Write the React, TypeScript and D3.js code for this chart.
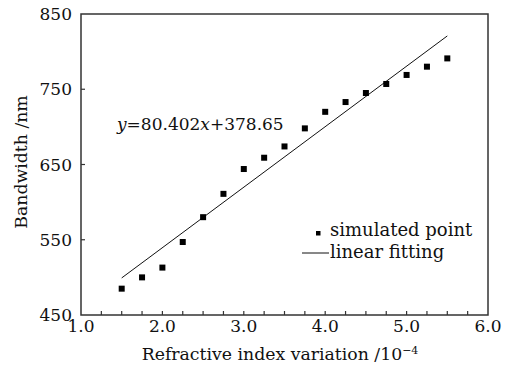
import React from "react";
import * as d3 from "d3";

// Refractive index variation (×10^-4) and simulated bandwidth (nm)
const xValues = [1.5, 1.75, 2.0, 2.25, 2.5, 2.75, 3.0, 3.25, 3.5, 3.75, 4.0, 4.25, 4.5, 4.75, 5.0, 5.25, 5.5];
const bandwidth = [485, 500, 513, 547, 580, 611, 644, 659, 674, 698, 720, 733, 745, 757, 769, 780, 791];

// Linear fit y = slope * x + intercept
const slope = 80.402;
const intercept = 378.65;
const fitRange = [1.5, 5.5];

const xTicks = [1.0, 2.0, 3.0, 4.0, 5.0, 6.0];
const xMinorTicks = d3.range(1.25, 6.0, 0.25);
const yTicks = [450, 550, 650, 750, 850];

const W = 521;
const H = 369;
const left = 81;
const right = 488;
const top = 14;
const bottom = 315;
const FONT = "'DejaVu Serif', serif";
const AXIS = "#333";
const TEXT = "#111";

export default function App() {
  const x = d3.scaleLinear().domain([1, 6]).range([left, right]);
  const y = d3.scaleLinear().domain([450, 850]).range([bottom, top]);
  const fitLine = d3
    .line<number>()
    .x((d) => x(d))
    .y((d) => y(slope * d + intercept));
  const sq = 6;

  return (
    <svg
      width={W}
      height={H}
      style={{ position: "absolute", left: 0, top: 0, background: "#fff" }}
      fontFamily={FONT}
    >
      <rect x={0} y={0} width={W} height={H} fill="#fff" />
      {/* frame */}
      <rect
        x={left}
        y={top}
        width={right - left}
        height={bottom - top}
        fill="none"
        stroke={AXIS}
        strokeWidth={1.5}
      />
      {/* bottom ticks */}
      {xMinorTicks.map((t) => (
        <line key={"xm" + t} x1={x(t)} x2={x(t)} y1={bottom} y2={bottom - 4} stroke={AXIS} strokeWidth={1.2} />
      ))}
      {xTicks.map((t) => (
        <text key={"xl" + t} x={x(t)} y={332} textAnchor="middle" fontSize={17} fill={TEXT}>
          {t.toFixed(1)}
        </text>
      ))}
      {/* left ticks */}
      {yTicks.slice(1, -1).map((t) => (
        <line key={"yt" + t} x1={left} x2={left + 4} y1={y(t)} y2={y(t)} stroke={AXIS} strokeWidth={1.2} />
      ))}
      {yTicks.map((t) => (
        <text
          key={"yl" + t}
          x={72}
          y={y(t)}
          dy="0.36em"
          textAnchor="end"
          fontSize={17}
          fill={TEXT}
        >
          {t}
        </text>
      ))}
      {/* axis titles */}
      <text x={280} y={360} textAnchor="middle" fontSize={17.3} fill={TEXT}>
        Refractive index variation /10
        <tspan dy={-6} fontSize={11}>−4</tspan>
      </text>
      <text
        transform={`translate(27,162) rotate(-90)`}
        textAnchor="middle"
        fontSize={17.3}
        fill={TEXT}
      >
        Bandwidth /nm
      </text>
      {/* fitted line */}
      <path d={fitLine(fitRange) ?? ""} fill="none" stroke="#111" strokeWidth={1} />
      {/* simulated points */}
      {xValues.map((v, i) => (
        <rect
          key={"p" + i}
          x={x(v) - sq / 2}
          y={y(bandwidth[i]) - sq / 2}
          width={sq}
          height={sq}
          fill="#000"
        />
      ))}
      {/* fit equation */}
      <text x={117} y={130} fontSize={17} fill={TEXT}>
        <tspan fontStyle="italic">y</tspan>=80.402<tspan fontStyle="italic">x</tspan>+378.65
      </text>
      {/* legend */}
      <rect x={316} y={231} width={4.5} height={4.5} fill="#000" />
      <text x={330} y={236} fontSize={18} fill={TEXT}>
        simulated point
      </text>
      <line x1={302} x2={329} y1={253} y2={253} stroke="#111" strokeWidth={1} />
      <text x={330} y={258} fontSize={18} fill={TEXT}>
        linear fitting
      </text>
    </svg>
  );
}
